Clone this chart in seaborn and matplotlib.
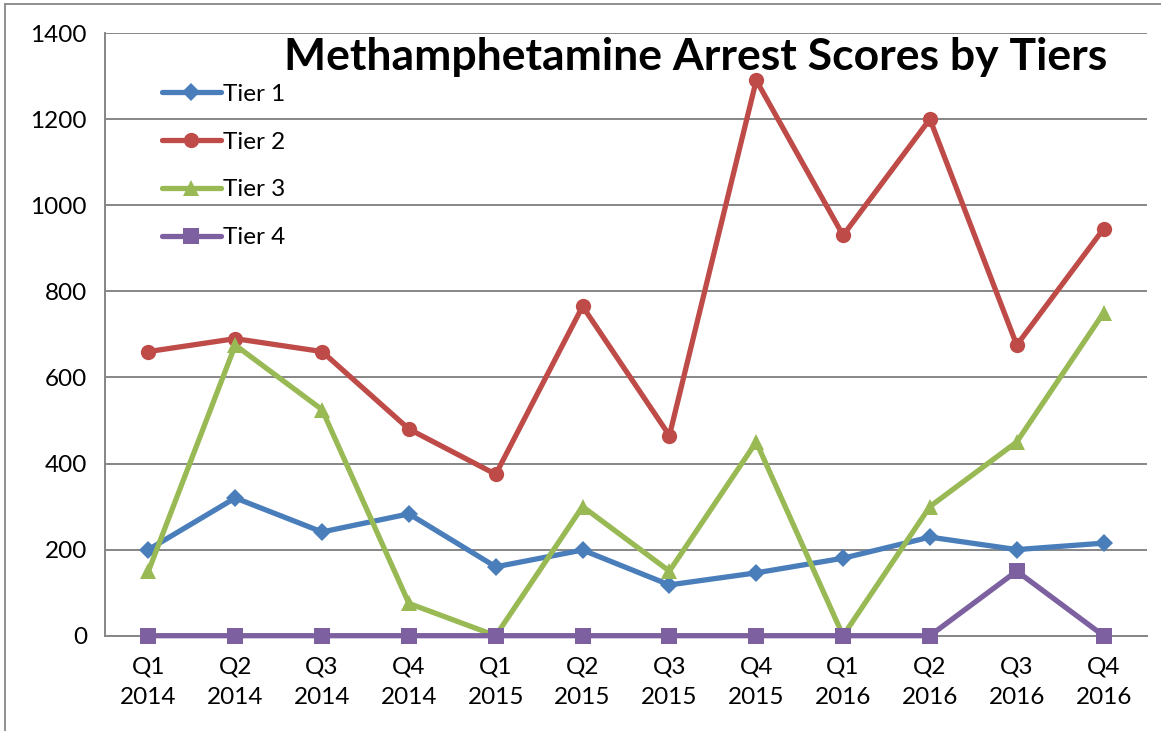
import numpy as np
import pandas as pd
import seaborn as sns
import matplotlib.pyplot as plt
from matplotlib.lines import Line2D
from matplotlib.ticker import FixedLocator

# quarters on the x axis
quarters = ["Q1\n2014", "Q2\n2014", "Q3\n2014", "Q4\n2014",
            "Q1\n2015", "Q2\n2015", "Q3\n2015", "Q4\n2015",
            "Q1\n2016", "Q2\n2016", "Q3\n2016", "Q4\n2016"]

# arrest scores per tier
tier1 = [200, 320, 241, 283, 160, 199, 118, 146, 180, 229, 200, 215]
tier2 = [660, 690, 660, 480, 375, 765, 465, 1290, 930, 1200, 675, 945]
tier3 = [150, 675, 525, 75, 0, 300, 150, 450, 0, 300, 450, 750]
tier4 = [0, 0, 0, 0, 0, 0, 0, 0, 0, 0, 150, 0]

tiers = ["Tier 1", "Tier 2", "Tier 3", "Tier 4"]
colors = ["#4A7EBB", "#BE4B48", "#98B954", "#7D60A0"]
markers = ["D", "o", "^", "s"]
msizes = [9, 11, 11, 11]

df = pd.DataFrame({
    "pos": list(range(len(quarters))) * 4,
    "score": tier1 + tier2 + tier3 + tier4,
    "tier": np.repeat(tiers, len(quarters)),
})

sns.set_style("white")
plt.rcParams["font.family"] = ["Lato", "DejaVu Sans"]
plt.rcParams["text.color"] = "black"
plt.rcParams["xtick.labelcolor"] = "black"
plt.rcParams["ytick.labelcolor"] = "black"

fig = plt.figure(figsize=(11.61, 7.31), dpi=100)
ax = fig.add_axes([105 / 1161, 1 - 635.7 / 731, (1147 - 105) / 1161, (635.7 - 33) / 731])

handles = []
for name, col, mk, ms in zip(tiers, colors, markers, msizes):
    sub = df[df["tier"] == name]
    sns.lineplot(data=sub, x="pos", y="score", color=col, marker=mk, markersize=ms,
                 markeredgewidth=0, linewidth=3.8, ax=ax, legend=False,
                 zorder=3, clip_on=False)
    handles.append(Line2D([0], [0], color=col, marker=mk, markersize=ms,
                          markeredgewidth=0, linewidth=3.8))

ax.set_xlim(-0.5, len(quarters) - 0.5)
ax.set_ylim(0, 1400)
ax.set_yticks(range(0, 1401, 200))
ax.set_xticks(range(len(quarters)))
ax.set_xticklabels(quarters, fontsize=17.5, linespacing=1.55)
ax.xaxis.set_minor_locator(FixedLocator(np.arange(-0.5, len(quarters), 1)))
ax.tick_params(axis="x", which="major", length=0, pad=15)
ax.tick_params(axis="x", which="minor", length=8, width=1.3, color="#868686")
ax.tick_params(axis="y", length=9, width=1.3, color="#868686", labelsize=17.5, pad=4)
ax.set_xlabel("")
ax.set_ylabel("")

ax.grid(axis="y", color="#868686", linewidth=1.4)
ax.set_axisbelow(True)
for side in ["top", "right"]:
    ax.spines[side].set_visible(False)
for side in ["left", "bottom"]:
    ax.spines[side].set_color("#868686")
    ax.spines[side].set_linewidth(1.4)
    ax.spines[side].set_zorder(2)

ax.legend(handles, tiers, loc="upper left", bbox_to_anchor=(0.034, 0.952),
          frameon=False, fontsize=17.5, handlelength=2.4, handletextpad=0.1,
          labelspacing=1.1)

fig.text(696 / 1161, 1 - 57 / 731, "Methamphetamine Arrest Scores by Tiers",
         ha="center", va="center", fontsize=32, fontweight="bold")

# outer chart frame (only top and left edges visible)
fig.add_artist(Line2D([5 / 1161, 1], [1 - 4 / 731, 1 - 4 / 731], color="#868686", linewidth=1.3))
fig.add_artist(Line2D([5 / 1161, 5 / 1161], [0, 1 - 4 / 731], color="#868686", linewidth=1.3))

fig.savefig("out.png", dpi=100)
